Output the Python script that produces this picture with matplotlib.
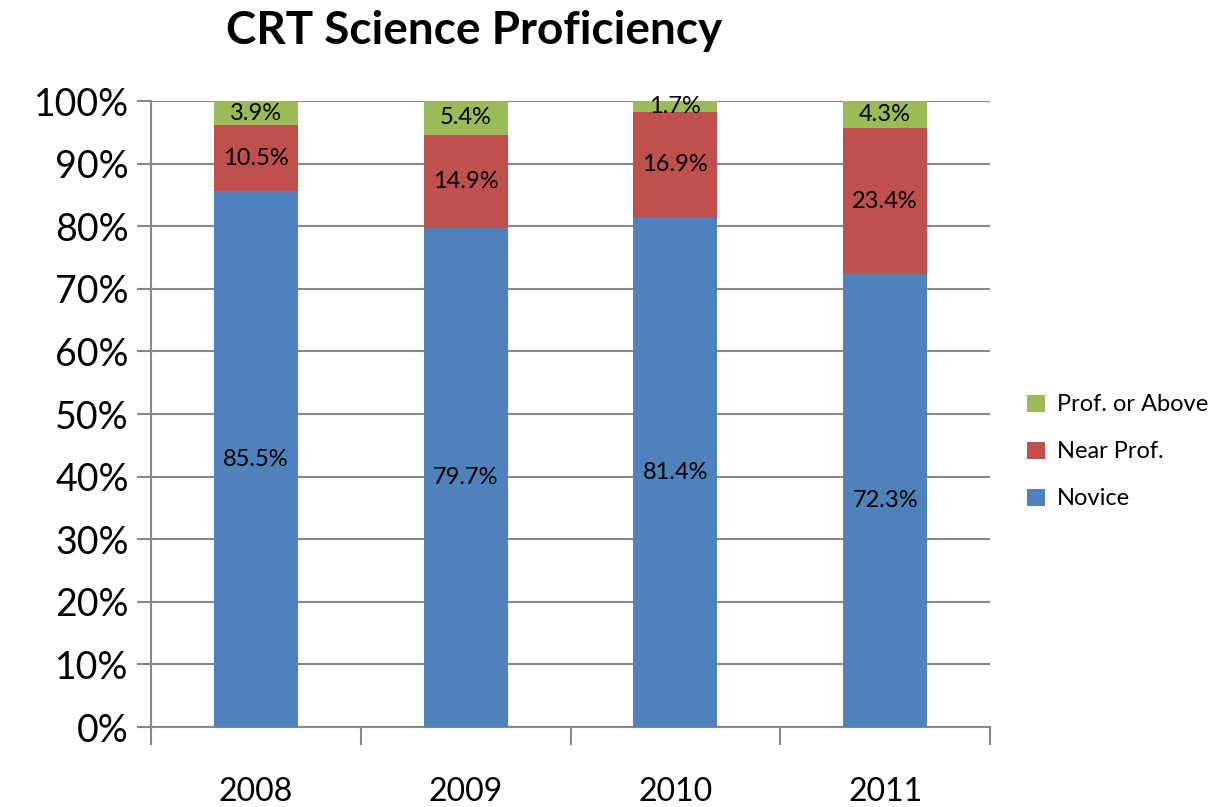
import matplotlib.pyplot as plt
import numpy as np

years = ["2008", "2009", "2010", "2011"]
novice = [85.5, 79.7, 81.4, 72.3]
near_prof = [10.5, 14.9, 16.9, 23.4]
prof_above = [3.9, 5.4, 1.7, 4.3]

plt.rcParams['font.family'] = ['Lato', 'DejaVu Sans']

series = [("Novice", novice, "#4F81BD"),
          ("Near Prof.", near_prof, "#C0504D"),
          ("Prof. or Above", prof_above, "#9BBB59")]

# 100% stacked: normalise each column
totals = np.array(novice) + np.array(near_prof) + np.array(prof_above)

fig = plt.figure(figsize=(12.24, 8.07), dpi=100)
ax = fig.add_axes([0.1234, 0.0991, 0.6854, 0.7757])

x = np.arange(len(years))
bottom = np.zeros(len(years))
handles = []
for name, vals, color in series:
    share = np.array(vals) / totals * 100
    bars = ax.bar(x, share, 0.4, bottom=bottom, color=color, label=name, zorder=3)
    handles.append(bars)
    for xi, b, s, v in zip(x, bottom, share, vals):
        ax.text(xi, b + s / 2, f"{v:.1f}%", ha="center", va="center", fontsize=17, zorder=4)
    bottom += share

ax.set_xlim(-0.5, len(years) - 0.5)
ax.set_ylim(0, 100)
ax.set_yticks(np.arange(0, 101, 10))
ax.set_yticklabels([f"{v}%" for v in range(0, 101, 10)], fontsize=27)
ax.yaxis.grid(True, color="#888888", linewidth=1.5, zorder=0)
ax.tick_params(axis="y", length=10, width=1.5, color="#888888", pad=6)

ax.set_xticks(x)
ax.set_xticklabels(years, fontsize=23)
ax.tick_params(axis="x", length=0, pad=36)
ax.set_xticks(np.arange(-0.5, len(years)), minor=True)
ax.tick_params(axis="x", which="minor", length=13, width=1.5, color="#888888")

for side in ["top", "right"]:
    ax.spines[side].set_visible(False)
for side in ["left", "bottom"]:
    ax.spines[side].set_color("#888888")
    ax.spines[side].set_linewidth(1.5)

fig.text(0.387, 0.962, "CRT Science Proficiency", ha="center", va="center",
         fontsize=33, fontweight="bold")

fig.legend(handles[::-1], [s[0] for s in series][::-1], loc="center left",
           bbox_to_anchor=(0.822, 0.44), frameon=False, fontsize=17,
           handlelength=0.75, handleheight=0.75, labelspacing=1.1, handletextpad=0.5)

fig.savefig("out.png", dpi=100)
